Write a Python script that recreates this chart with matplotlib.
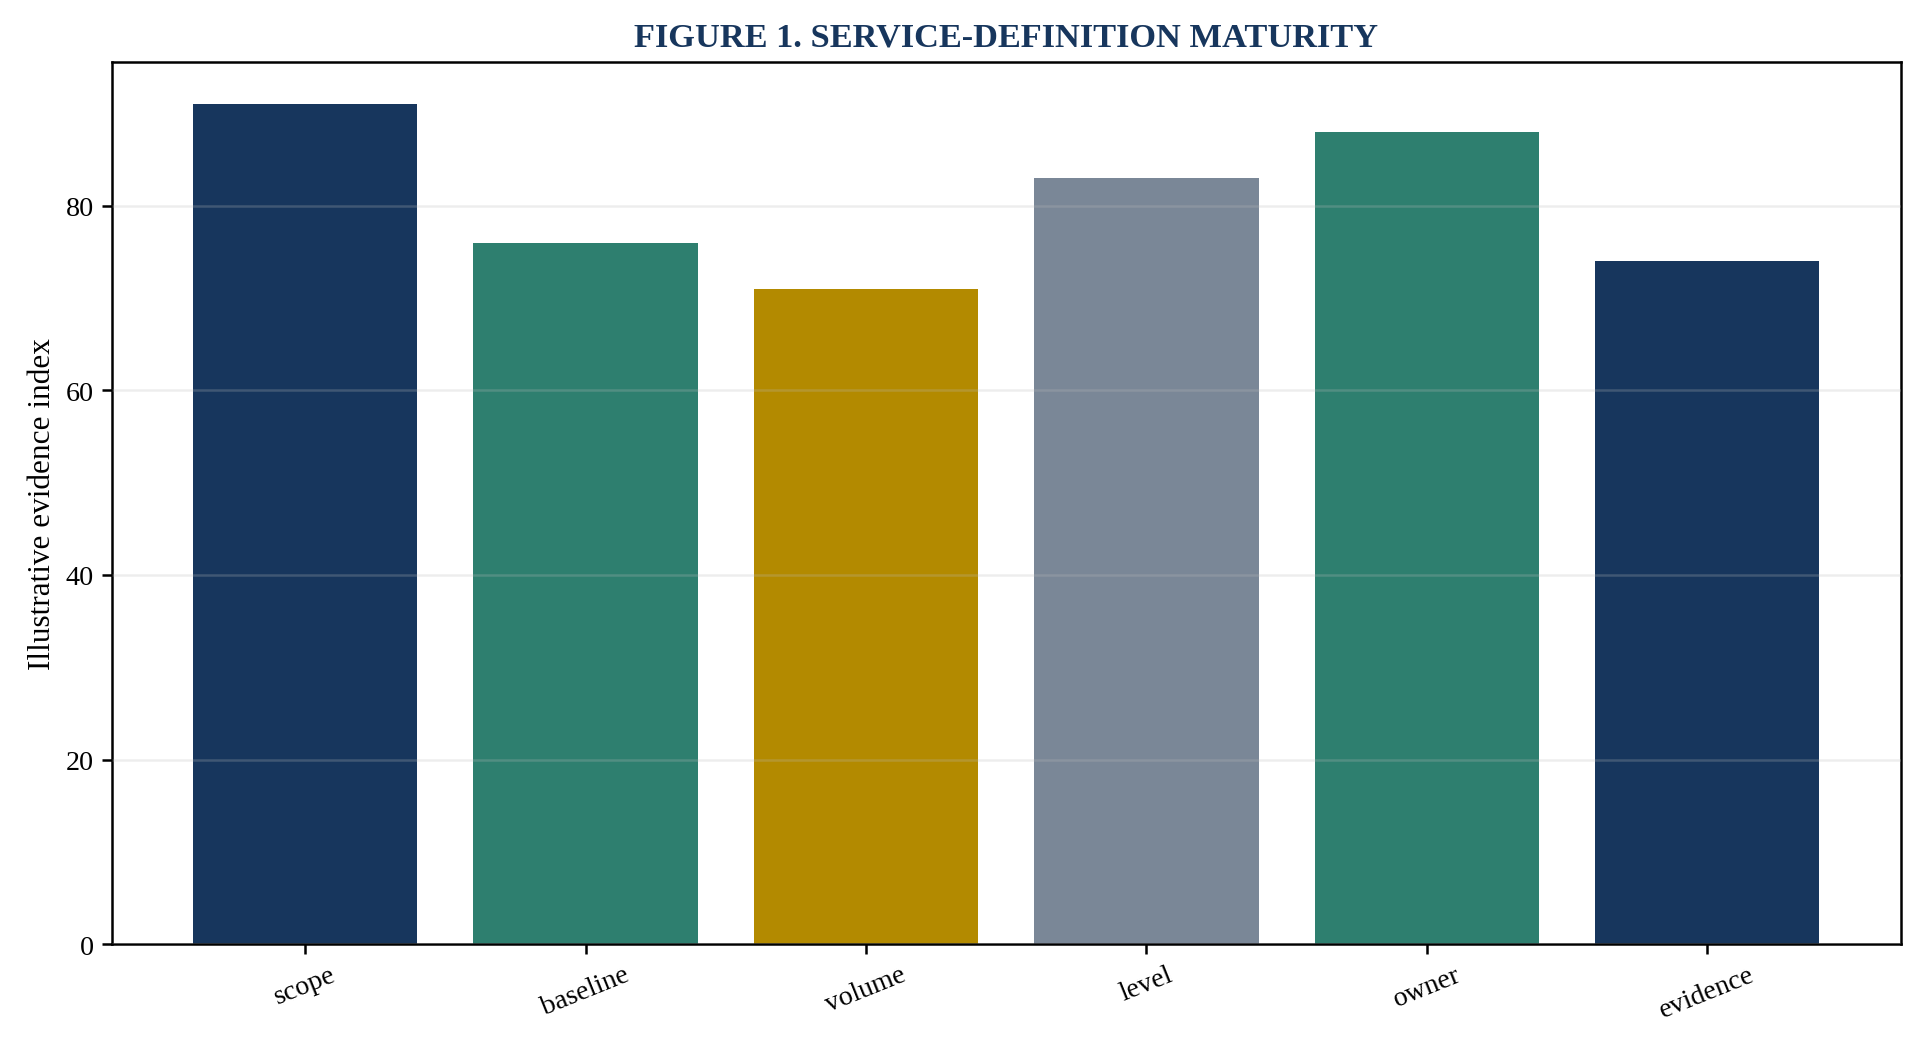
import matplotlib
matplotlib.use('Agg')
import matplotlib.pyplot as plt

plt.rcParams['font.family'] = ['Liberation Serif', 'DejaVu Serif']

categories = ['scope', 'baseline', 'volume', 'level', 'owner', 'evidence']
values = [91, 76, 71, 83, 88, 74]
colors = ['#17365D', '#2E7F6F', '#B38A00', '#7A8797', '#2E7F6F', '#17365D']

fig, ax = plt.subplots(figsize=(12.826, 6.986), dpi=150)
fig.subplots_adjust(left=0.058, right=0.988, top=0.94, bottom=0.098)

ax.bar(categories, values, color=colors, width=0.8, zorder=2)
ax.set_ylim(0, max(values) * 1.05)
ax.grid(True, axis='y', color='#BBBBBB', alpha=0.25, lw=1.2, zorder=3)
ax.set_axisbelow(False)

for s in ax.spines.values():
    s.set_linewidth(1.2)

ax.set_ylabel('Illustrative evidence index', fontsize=15)
ax.set_title('FIGURE 1. SERVICE-DEFINITION MATURITY', fontsize=16.5,
             fontweight='bold', color='#17365D', pad=8)
ax.tick_params(axis='both', labelsize=13.5, length=5, width=1.2)
plt.setp(ax.get_xticklabels(), rotation=22)

fig.savefig('out.png', dpi=150)
